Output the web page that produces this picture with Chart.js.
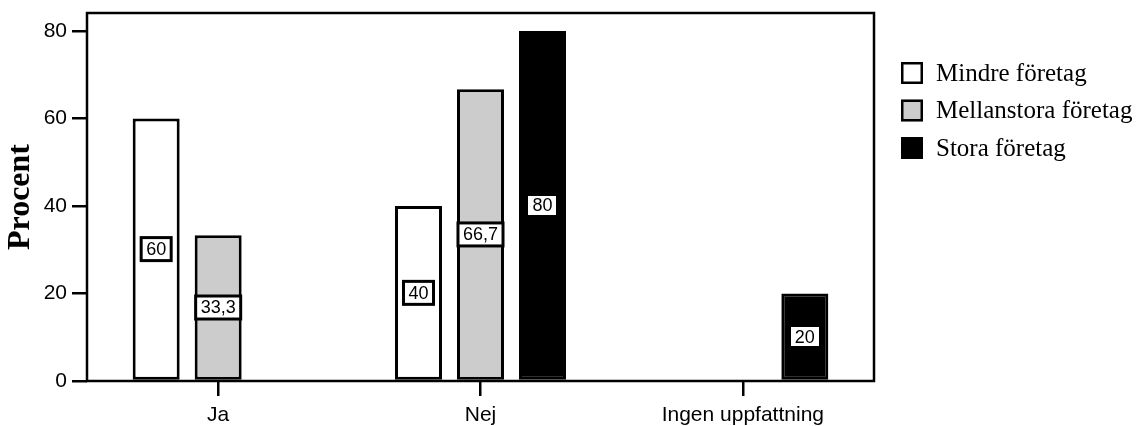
<!DOCTYPE html>
<html>
<head>
<meta charset="utf-8">
<script src="https://cdn.jsdelivr.net/npm/chart.js@4/dist/chart.umd.min.js"></script>
<style>
  html, body { margin: 0; padding: 0; background: #fff; }
  #wrap { width: 1139px; height: 426px; }
</style>
</head>
<body>
<div id="wrap"><canvas id="c" width="1139" height="426"></canvas></div>
<script>
// Answer categories and share (%) per company size
const categories = ['Ja', 'Nej', 'Ingen uppfattning'];
const seriesNames = ['Mindre företag', 'Mellanstora företag', 'Stora företag'];
const mindre = [60, 40, 0];
const mellanstora = [33.3, 66.7, 0];
const stora = [0, 80, 20];
const yTicks = [0, 20, 40, 60, 80];

const fills = ['#ffffff', '#cccccc', '#000000'];
const SANS = '"Liberation Sans", Arial, sans-serif';
const SERIF = '"Liberation Serif", "Times New Roman", serif';

// Boxed value labels at the vertical middle of each bar
const valueLabels = {
  id: 'valueLabels',
  afterDatasetsDraw(chart) {
    const ctx = chart.ctx;
    ctx.save();
    ctx.font = '18px ' + SANS;
    ctx.textAlign = 'center';
    ctx.textBaseline = 'middle';
    chart.data.datasets.forEach((ds, di) => {
      const meta = chart.getDatasetMeta(di);
      meta.data.forEach((bar, i) => {
        const v = ds.data[i];
        if (!v) return;
        const txt = String(v).replace('.', ',');
        const w = ctx.measureText(txt).width;
        const cx = bar.x;
        const cy = (bar.y + bar.base) / 2;
        if (di === 2) {
          ctx.fillStyle = '#fff';
          ctx.fillRect(Math.round(cx - w / 2 - 4), Math.round(cy - 9.5), Math.round(w + 8), 19);
        } else {
          const bw = w + 10, bh = 23;
          ctx.fillStyle = '#fff';
          ctx.fillRect(cx - bw / 2, cy - bh / 2, bw, bh);
          ctx.lineWidth = 3;
          ctx.strokeStyle = '#000';
          ctx.strokeRect(cx - bw / 2, cy - bh / 2, bw, bh);
        }
        ctx.fillStyle = '#000';
        ctx.fillText(txt, cx, cy + 1);
      });
    });
    ctx.restore();
  }
};

// Box around the plot area
const frame = {
  id: 'frame',
  afterDatasetsDraw(chart) {
    const a = chart.chartArea;
    const ctx = chart.ctx;
    ctx.save();
    ctx.lineWidth = 2.5;
    ctx.strokeStyle = '#000';
    ctx.strokeRect(a.left, a.top, a.right - a.left, a.bottom - a.top);
    ctx.restore();
  }
};

// Legend to the right of the plot
const sideLegend = {
  id: 'sideLegend',
  afterDraw(chart) {
    const ctx = chart.ctx;
    ctx.save();
    ctx.font = '25px ' + SERIF;
    ctx.textAlign = 'left';
    ctx.textBaseline = 'middle';
    chart.data.datasets.forEach((ds, i) => {
      const top = 62 + i * 37.5;
      ctx.fillStyle = ds.backgroundColor;
      ctx.fillRect(901, top, 22, 22);
      ctx.lineWidth = 2.5;
      ctx.strokeStyle = '#000';
      ctx.strokeRect(902.25, top + 1.25, 19.5, 19.5);
      ctx.fillStyle = '#000';
      ctx.fillText(ds.label, 936, top + 12);
    });
    ctx.restore();
  }
};

const values = [mindre, mellanstora, stora];

new Chart(document.getElementById('c'), {
  type: 'bar',
  data: {
    labels: categories,
    datasets: seriesNames.map((name, i) => ({
      label: name,
      data: values[i],
      backgroundColor: fills[i],
      borderColor: '#000',
      borderWidth: 3,
      borderSkipped: false,
      categoryPercentage: 0.709,
      barPercentage: 0.758
    }))
  },
  options: {
    responsive: false,
    animation: false,
    devicePixelRatio: 1,
    layout: { padding: { top: 13, right: 265, left: 0, bottom: 0 } },
    plugins: { legend: { display: false }, tooltip: { enabled: false } },
    scales: {
      x: {
        grid: { display: true, drawOnChartArea: false, offset: false, tickLength: 15, tickColor: '#000', lineWidth: 2.5 },
        border: { display: false },
        ticks: { color: '#000', font: { family: SANS, size: 21 }, padding: 7, maxRotation: 0 },
        afterFit(s) { s.height = 45; s.paddingLeft = 0; s.paddingRight = 0; }
      },
      y: {
        min: 0,
        max: 84.1,
        grid: { display: true, drawOnChartArea: false, tickLength: 15, tickColor: '#000', lineWidth: 2.5 },
        border: { display: false },
        ticks: { color: '#000', font: { family: SANS, size: 21 }, padding: 5, stepSize: 20, includeBounds: false },
        afterBuildTicks(s) { s.ticks = yTicks.map(v => ({ value: v })); },
        title: {
          display: true,
          text: 'Procent',
          color: '#000',
          font: { family: SERIF, size: 32, weight: 'bold' },
          padding: { top: 2, bottom: 0 }
        },
        afterFit(s) { s.width = 87; s.paddingTop = 0; s.paddingBottom = 0; }
      }
    }
  },
  plugins: [valueLabels, frame, sideLegend]
});
</script>
</body>
</html>
